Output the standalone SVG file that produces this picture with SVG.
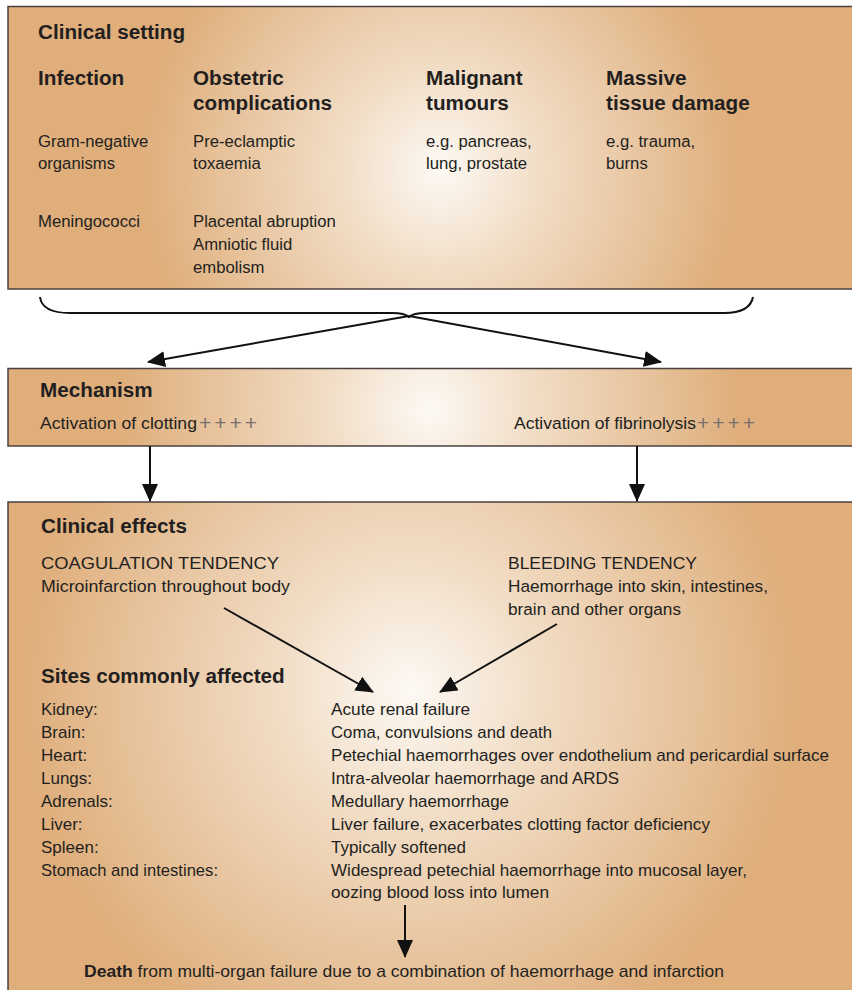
<svg xmlns="http://www.w3.org/2000/svg" width="852" height="990" viewBox="0 0 852 990">
<style>
text{font-family:"Liberation Sans",Arial,sans-serif;fill:#231f20}
.h{font-weight:bold;font-size:20.7px}
.b{font-size:16.7px}
.m{font-size:17.4px}
.s{font-size:17px}
.p{fill:#7a7070;font-size:21px;letter-spacing:3px}
.box{stroke:#4a4040;stroke-width:1.5}
.ln{stroke:#111;stroke-width:2;fill:none}
</style>
<defs>
<radialGradient id="g1" gradientUnits="userSpaceOnUse" cx="440" cy="170" r="300">
<stop offset="0" stop-color="#fdf9f4"/><stop offset="0.35" stop-color="#f1dcc4"/><stop offset="1" stop-color="#dfae7b"/>
</radialGradient>
<radialGradient id="g2" gradientUnits="userSpaceOnUse" cx="430" cy="410" r="310">
<stop offset="0" stop-color="#fdf9f4"/><stop offset="0.35" stop-color="#f1dcc4"/><stop offset="1" stop-color="#dfae7b"/>
</radialGradient>
<radialGradient id="g3" gradientUnits="userSpaceOnUse" cx="410" cy="690" r="390">
<stop offset="0" stop-color="#fdf9f4"/><stop offset="0.35" stop-color="#f1dcc4"/><stop offset="1" stop-color="#dfae7b"/>
</radialGradient>
<marker id="ah" markerUnits="userSpaceOnUse" markerWidth="20" markerHeight="16" refX="17" refY="8" orient="auto">
<path d="M0,0 L18,8 L0,16 Z" fill="#111"/>
</marker>
</defs>

<g id="clinical-setting">
<rect class="box" x="8" y="6.5" width="850" height="282.5" fill="url(#g1)"/>
<text class="h" x="38" y="39">Clinical setting</text>
<text class="h" x="38" y="85">Infection</text>
<text class="b" x="38" y="147">Gram-negative</text>
<text class="b" x="38" y="169">organisms</text>
<text class="b" x="38" y="227">Meningococci</text>
<text class="h" x="193" y="85">Obstetric</text>
<text class="h" x="193" y="110">complications</text>
<text class="b" x="193" y="147">Pre-eclamptic</text>
<text class="b" x="193" y="169">toxaemia</text>
<text class="b" x="193" y="227">Placental abruption</text>
<text class="b" x="193" y="250">Amniotic fluid</text>
<text class="b" x="193" y="273">embolism</text>
<text class="h" x="426" y="85">Malignant</text>
<text class="h" x="426" y="110">tumours</text>
<text class="b" x="426" y="147">e.g. pancreas,</text>
<text class="b" x="426" y="169">lung, prostate</text>
<text class="h" x="606" y="85">Massive</text>
<text class="h" x="606" y="110">tissue damage</text>
<text class="b" x="606" y="147">e.g. trauma,</text>
<text class="b" x="606" y="169">burns</text>
</g>

<g id="mechanism">
<rect class="box" x="8" y="368.5" width="850" height="77.5" fill="url(#g2)"/>
<text class="h" x="40" y="397">Mechanism</text>
<text class="m" x="40" y="429" textLength="157" lengthAdjust="spacingAndGlyphs">Activation of clotting</text>
<text class="p" x="199" y="430">++++</text>
<text class="m" x="514" y="429" textLength="182" lengthAdjust="spacingAndGlyphs">Activation of fibrinolysis</text>
<text class="p" x="697" y="430">++++</text>
</g>

<g id="clinical-effects">
<rect class="box" x="8" y="502" width="850" height="495" fill="url(#g3)"/>
<text class="h" x="41" y="533">Clinical effects</text>
<text class="m" x="41" y="569" textLength="238" lengthAdjust="spacingAndGlyphs">COAGULATION TENDENCY</text>
<text class="m" x="41" y="592" textLength="249" lengthAdjust="spacingAndGlyphs">Microinfarction throughout body</text>
<text class="m" x="508" y="569" textLength="189" lengthAdjust="spacingAndGlyphs">BLEEDING TENDENCY</text>
<text class="m" x="508" y="592" textLength="260" lengthAdjust="spacingAndGlyphs">Haemorrhage into skin, intestines,</text>
<text class="m" x="508" y="615" textLength="173" lengthAdjust="spacingAndGlyphs">brain and other organs</text>
<text class="h" x="41" y="683">Sites commonly affected</text>
<text class="s" x="41" y="715">Kidney:</text>
<text class="s" x="41" y="738">Brain:</text>
<text class="s" x="41" y="761">Heart:</text>
<text class="s" x="41" y="784">Lungs:</text>
<text class="s" x="41" y="807">Adrenals:</text>
<text class="s" x="41" y="830">Liver:</text>
<text class="s" x="41" y="853">Spleen:</text>
<text class="s" x="41" y="876" textLength="177" lengthAdjust="spacingAndGlyphs">Stomach and intestines:</text>
<text class="s" x="331" y="715" textLength="139" lengthAdjust="spacingAndGlyphs">Acute renal failure</text>
<text class="s" x="331" y="738" textLength="221" lengthAdjust="spacingAndGlyphs">Coma, convulsions and death</text>
<text class="s" x="331" y="761" textLength="498" lengthAdjust="spacingAndGlyphs">Petechial haemorrhages over endothelium  and pericardial surface</text>
<text class="s" x="331" y="784" textLength="288" lengthAdjust="spacingAndGlyphs">Intra-alveolar haemorrhage and ARDS</text>
<text class="s" x="331" y="807" textLength="178" lengthAdjust="spacingAndGlyphs">Medullary haemorrhage</text>
<text class="s" x="331" y="830" textLength="379" lengthAdjust="spacingAndGlyphs">Liver failure, exacerbates clotting factor deficiency</text>
<text class="s" x="331" y="853" textLength="135" lengthAdjust="spacingAndGlyphs">Typically softened</text>
<text class="s" x="331" y="876" textLength="416" lengthAdjust="spacingAndGlyphs">Widespread petechial haemorrhage into mucosal layer,</text>
<text class="s" x="331" y="898" textLength="218" lengthAdjust="spacingAndGlyphs">oozing blood loss into lumen</text>
<text class="s" x="84" y="977" textLength="640" lengthAdjust="spacingAndGlyphs"><tspan font-weight="bold">Death</tspan> from multi-organ failure due to a combination of haemorrhage and infarction</text>
</g>

<g id="connectors">
<path class="ln" d="M40,297 Q42,313 70,313 L392,313 Q405,313 409,317 Q413,313 426,313 L724,313 Q750,313 753,297"/>
<line class="ln" x1="409" y1="316" x2="148" y2="362" marker-end="url(#ah)"/>
<line class="ln" x1="409" y1="316" x2="661" y2="362" marker-end="url(#ah)"/>
<line class="ln" x1="150" y1="446" x2="150" y2="501" marker-end="url(#ah)"/>
<line class="ln" x1="637" y1="446" x2="637" y2="501" marker-end="url(#ah)"/>
<line class="ln" x1="224" y1="608" x2="373" y2="692" marker-end="url(#ah)"/>
<line class="ln" x1="557" y1="624" x2="440" y2="692" marker-end="url(#ah)"/>
<line class="ln" x1="405" y1="905" x2="405" y2="957" marker-end="url(#ah)"/>
</g>
</svg>
